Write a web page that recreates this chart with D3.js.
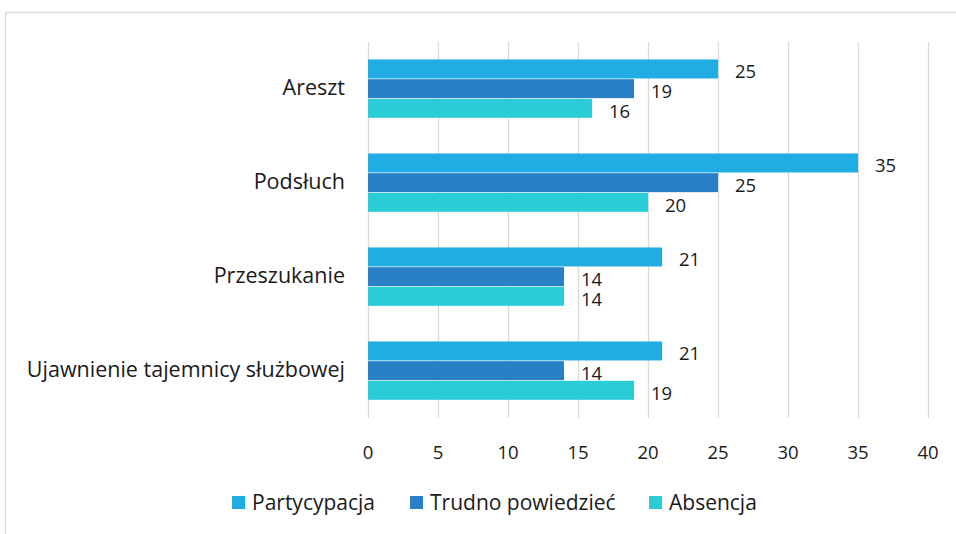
<!DOCTYPE html>
<meta charset="utf-8">
<style>
body { margin: 0; background: #fff; }
svg { font-family: "Open Sans", sans-serif; }
.grid line { stroke: #d9d9d9; stroke-width: 1.3; }
.grid path { display: none; }
.frame { fill: none; stroke: #d9d9d9; stroke-width: 1.5; }
.cat text, .xlab text, .value, .legend text { fill: #1a1a1a; }
</style>
<body>
<svg id="chart" width="956" height="534"></svg>
<script src="https://cdn.jsdelivr.net/npm/d3@7"></script>
<script>

var categories = ["Areszt", "Podsłuch", "Przeszukanie", "Ujawnienie tajemnicy służbowej"];
var series = ["Partycypacja", "Trudno powiedzieć", "Absencja"];
var partycypacja = [25, 35, 21, 21];
var trudno = [19, 25, 14, 14];
var absencja = [16, 20, 14, 19];
var xTicks = [0, 5, 10, 15, 20, 25, 30, 35, 40];

var colors = ["#1fade3", "#2980c6", "#2acdd6"];
var values = [partycypacja, trudno, absencja];

var svg = d3.select("#chart");

var margin = {left: 368, right: 28, top: 42, bottom: 116};
var width = 956, height = 534;

// frame (cut off on the right and bottom like the original)
svg.append("rect")
    .attr("class", "frame")
    .attr("x", 5.5)
    .attr("y", 12.5)
    .attr("width", 1000)
    .attr("height", 600);

var x = d3.scaleLinear()
    .domain([0, 40])
    .range([margin.left, width - margin.right]);

var y = d3.scaleBand()
    .domain(categories)
    .range([margin.top, height - margin.bottom])
    .paddingInner(0.372)
    .paddingOuter(0.186);

var ySub = d3.scaleBand()
    .domain(series)
    .range([0, y.bandwidth()]);

var color = d3.scaleOrdinal(series, colors);

// vertical gridlines
svg.append("g")
    .attr("class", "grid")
    .attr("transform", "translate(0," + margin.top + ")")
    .call(d3.axisBottom(x).tickValues(xTicks).tickSize(height - margin.bottom - margin.top).tickFormat(""));

// x labels
svg.append("g")
    .attr("class", "xlab")
    .selectAll("text")
    .data(xTicks)
  .enter().append("text")
    .attr("x", function(d) { return x(d); })
    .attr("y", 459)
    .attr("text-anchor", "middle")
    .style("font-size", "18.5px")
    .text(function(d) { return d; });

// bars
var rows = [];
categories.forEach(function(c, i) {
  series.forEach(function(s, j) {
    rows.push({cat: c, s: s, v: values[j][i]});
  });
});

svg.append("g").selectAll("rect")
    .data(rows)
  .enter().append("rect")
    .attr("x", x(0))
    .attr("y", function(d) { return y(d.cat) + ySub(d.s); })
    .attr("width", function(d) { return x(d.v) - x(0); })
    .attr("height", ySub.bandwidth() - 0.7)
    .attr("fill", function(d) { return color(d.s); });

svg.append("g").selectAll("text")
    .data(rows)
  .enter().append("text")
    .attr("class", "value")
    .attr("x", function(d) { return x(d.v) + 17; })
    .attr("y", function(d) { return y(d.cat) + ySub(d.s) + ySub.bandwidth() / 2 + 9; })
    .style("font-size", "18.5px")
    .text(function(d) { return d.v; });

// category labels
svg.append("g")
    .attr("class", "cat")
    .selectAll("text")
    .data(categories)
  .enter().append("text")
    .attr("x", 345)
    .attr("y", function(d) { return y(d) + y.bandwidth() / 2 + 6; })
    .attr("text-anchor", "end")
    .style("font-size", "21.5px")
    .text(function(d) { return d; });

// legend
var legendX = [232, 410, 649];
var lg = svg.append("g").attr("class", "legend")
    .selectAll("g")
    .data(series)
  .enter().append("g")
    .attr("transform", function(d, i) { return "translate(" + legendX[i] + ",496)"; });

lg.append("rect")
    .attr("width", 13)
    .attr("height", 13)
    .attr("fill", function(d) { return color(d); });

lg.append("text")
    .attr("x", 20)
    .attr("y", 14)
    .style("font-size", "21px")
    .text(function(d) { return d; });

</script>
</body>
